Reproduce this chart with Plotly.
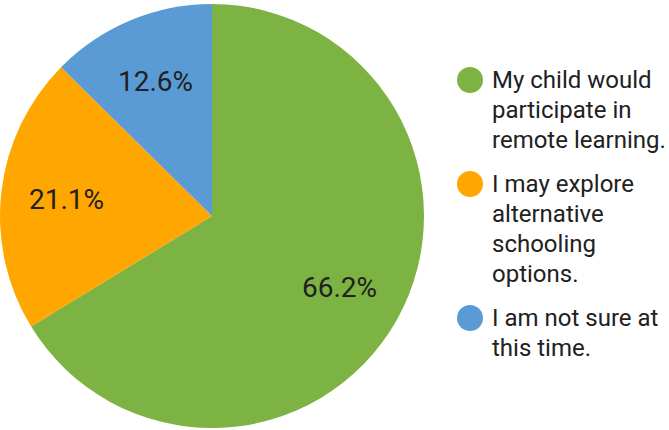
import math
import plotly.graph_objects as go

labels = ["My child would<br>participate in<br>remote learning.",
          "I may explore<br>alternative<br>schooling<br>options.",
          "I am not sure at<br>this time."]
values = [66.2, 21.1, 12.6]
colors = ["#7CB342", "#FFA600", "#5B9BD5"]

W, H = 669, 430
CX, CY, R = 212, 216, 212  # pie centre / radius in px

fig = go.Figure()
fig.add_trace(go.Pie(
    labels=labels, values=values, sort=False, direction="clockwise", rotation=0,
    marker=dict(colors=colors, line=dict(width=0)),
    textinfo="none",
    domain=dict(x=[(CX - R) / W, (CX + R) / W], y=[1 - (CY + R) / H, 1 - (CY - R) / H]),
    showlegend=False, hoverinfo="label+percent",
))

annotations = []
shapes = []

# slice value labels, placed at the slice mid-angle
total = sum(values)
cum = 0
for v in values:
    th = 2 * math.pi * (cum + v / 2) / total
    cum += v
    px = CX + 0.69 * R * math.sin(th)
    py = CY - 0.69 * R * math.cos(th)
    annotations.append(dict(text=f"{v:.1f}%", xref="paper", yref="paper",
                            x=px / W, y=1 - py / H, xanchor="center", yanchor="middle",
                            showarrow=False,
                            font=dict(family="Roboto", size=28, color="#212121")))

# custom legend
line_gap = 30
item_gap = 44
base = 88.5  # first baseline in px from top
for lab, col in zip(labels, colors):
    lines = lab.split("<br>")
    cy = base - 8.5
    shapes.append(dict(type="circle", xref="paper", yref="paper",
                       xsizemode="pixel", ysizemode="pixel",
                       xanchor=470 / W, yanchor=1 - cy / H,
                       x0=-13, x1=13, y0=-13, y1=13,
                       fillcolor=col, line=dict(width=0)))
    for k, ln in enumerate(lines):
        bl = base + k * line_gap
        annotations.append(dict(text=ln, xref="paper", yref="paper",
                                x=490 / W, y=1 - (bl - 8.5) / H,
                                xanchor="left", yanchor="middle", showarrow=False,
                                font=dict(family="Roboto", size=24, color="#212121")))
    base += (len(lines) - 1) * line_gap + item_gap

fig.update_layout(width=W, height=H, margin=dict(l=0, r=0, t=0, b=0),
                  paper_bgcolor="white", plot_bgcolor="white",
                  annotations=annotations, shapes=shapes)
fig.write_html("out.html", post_script="document.body.style.margin='0';",
               config={"displayModeBar": False})
